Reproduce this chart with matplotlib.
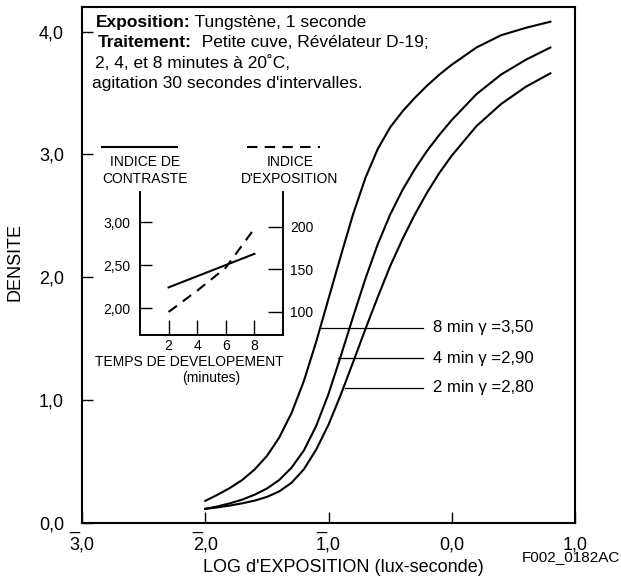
import matplotlib
matplotlib.use("Agg")
import matplotlib.pyplot as plt

plt.rcParams['font.family'] = ['Liberation Sans', 'DejaVu Sans']

# log exposure for the characteristic curves
log_exp = [-2.0, -1.9, -1.8, -1.7, -1.6, -1.5, -1.4, -1.3, -1.2, -1.1, -1.0,
           -0.9, -0.8, -0.7, -0.6, -0.5, -0.4, -0.3, -0.2, -0.1, 0.0,
           0.2, 0.4, 0.6, 0.8]
dens_8min = [0.18, 0.23, 0.285, 0.35, 0.435, 0.545, 0.695, 0.895, 1.155, 1.475, 1.825,
             2.175, 2.515, 2.81, 3.045, 3.22, 3.35, 3.46, 3.56, 3.65, 3.73,
             3.87, 3.97, 4.03, 4.08]
dens_4min = [0.115, 0.135, 0.16, 0.19, 0.23, 0.28, 0.35, 0.45, 0.59, 0.79, 1.05,
             1.36, 1.68, 1.99, 2.27, 2.51, 2.71, 2.88, 3.03, 3.16, 3.28,
             3.49, 3.65, 3.77, 3.87]
dens_2min = [0.115, 0.127, 0.142, 0.16, 0.182, 0.212, 0.257, 0.327, 0.437, 0.597, 0.80,
             1.045, 1.31, 1.58, 1.84, 2.09, 2.31, 2.51, 2.69, 2.85, 2.99,
             3.23, 3.41, 3.55, 3.66]

curve_labels = ["8 min \u03b3 =3,50", "4 min \u03b3 =2,90", "2 min \u03b3 =2,80"]
label_dens = [1.59, 1.34, 1.10]
label_start = [-1.07, -0.92, -0.87]
label_end = -0.23

x_ticks = [-3, -2, -1, 0, 1]
x_ticklabels = ["_\n3,0", "_\n2,0", "_\n1,0", " \n0,0", " \n1,0"]
y_ticks = [0, 1, 2, 3, 4]
y_ticklabels = ["0,0", "1,0", "2,0", "3,0", "4,0"]

# inset: development time vs contrast / exposure index
dev_time = [2, 4, 6, 8]
contrast_idx = [2.24, 2.37, 2.50, 2.63]
exposure_idx = [100, 125, 152, 198]
inset_xticks = [2, 4, 6, 8]
inset_yticks = [2.0, 2.5, 3.0]
inset_yticklabels = ["2,00", "2,50", "3,00"]
inset_y2ticks = [100, 150, 200]

fig = plt.figure(figsize=(6.21, 5.8), dpi=100)
ax = fig.add_axes([0.132, 0.0983, 0.794, 0.8897])

for dens in (dens_8min, dens_4min, dens_2min):
    ax.plot(log_exp, dens, color="black", lw=1.5)

for txt, yv, x0 in zip(curve_labels, label_dens, label_start):
    ax.plot([x0, label_end], [yv, yv], color="black", lw=0.9)
    ax.text(label_end + 0.08, yv, txt, fontsize=12, va="center", ha="left")

ax.set_xlim(-3, 1)
ax.set_ylim(0, 4.2)
ax.set_xticks(x_ticks)
ax.set_xticklabels(x_ticklabels)
ax.set_yticks(y_ticks)
ax.set_yticklabels(y_ticklabels)
ax.tick_params(axis="both", direction="in", length=8, width=1.0, labelsize=13)
ax.tick_params(axis="y", pad=13)
ax.tick_params(axis="x", pad=-5)
for lab in ax.get_xticklabels():
    lab.set_multialignment("left")
    lab.set_linespacing(1.25)
for sp in ax.spines.values():
    sp.set_linewidth(1.5)

# header text block
lines = [("Exposition:", " Tungstène, 1 seconde", -2.89, 4.075),
         ("Traitement:", "  Petite cuve, Révélateur D-19;", -2.87, 3.91)]
for bold, rest, xv, yv in lines:
    t = ax.text(xv, yv, bold, fontsize=12.5, fontweight="bold", va="center", ha="left")
    ax.annotate(rest, xy=(1, 0.5), xycoords=t, fontsize=12.5, va="center", ha="left")
ax.text(-2.895, 3.745, "2, 4, et 8 minutes à 20˚C,", fontsize=12.5, va="center", ha="left")
ax.text(-2.92, 3.575, "agitation 30 secondes d'intervalles.", fontsize=12.5,
        va="center", ha="left")

fig.text(15 / 621, (580 - 262) / 580, "DENSITE", rotation=90, fontsize=13,
         ha="center", va="center")
fig.text(343 / 621, (580 - 568) / 580, "LOG d'EXPOSITION (lux-seconde)", fontsize=13,
         ha="center", va="center")
fig.text(0.998, (580 - 557) / 580, "F002_0182AC", fontsize=11, ha="right", va="center")

# inset chart
ax2 = fig.add_axes([0.2254, 0.4224, 0.2303, 0.2466])
ax2.plot(dev_time, contrast_idx, color="black", lw=1.5)
ax2.set_xlim(0, 10)
ax2.set_ylim(1.686, 3.35)
ax2.set_xticks(inset_xticks)
ax2.set_yticks(inset_yticks)
ax2.set_yticklabels(inset_yticklabels)
ax2.spines["top"].set_visible(False)
ax2.tick_params(axis="x", direction="in", length=11, width=1.0, labelsize=10, pad=3)
ax2.tick_params(axis="y", direction="in", length=8.6, width=1.0, labelsize=10, pad=7)
ax2.patch.set_alpha(0)

ax3 = ax2.twinx()
ax3.plot(dev_time, exposure_idx, color="black", lw=1.5, dashes=(5, 3.5))
ax3.set_ylim(72.9, 241)
ax3.set_yticks(inset_y2ticks)
ax3.spines["top"].set_visible(False)
ax3.tick_params(axis="y", direction="in", length=11, width=1.0, labelsize=10, pad=5)
for a in (ax2, ax3):
    for sp in a.spines.values():
        sp.set_linewidth(1.2)

ax2.plot([-0.266, 0.259], [1.315, 1.315], transform=ax2.transAxes, color="black",
         lw=1.5, clip_on=False)
ax2.plot([0.748, 1.259], [1.315, 1.315], transform=ax2.transAxes, color="black",
         lw=1.5, dashes=(5, 3.5), clip_on=False)
ax2.text(0.035, 1.15, "INDICE DE\nCONTRASTE", transform=ax2.transAxes, fontsize=10,
         ha="center", va="center", multialignment="center")
ax2.text(1.049, 1.15, "INDICE\nD'EXPOSITION", transform=ax2.transAxes, fontsize=10,
         ha="center", va="center", multialignment="center")
ax2.text(0.343, -0.189, "TEMPS DE DEVELOPEMENT", transform=ax2.transAxes, fontsize=10,
         ha="center", va="center")
ax2.text(0.497, -0.30, "(minutes)", transform=ax2.transAxes, fontsize=10,
         ha="center", va="center")

fig.savefig("out.png", dpi=100)
